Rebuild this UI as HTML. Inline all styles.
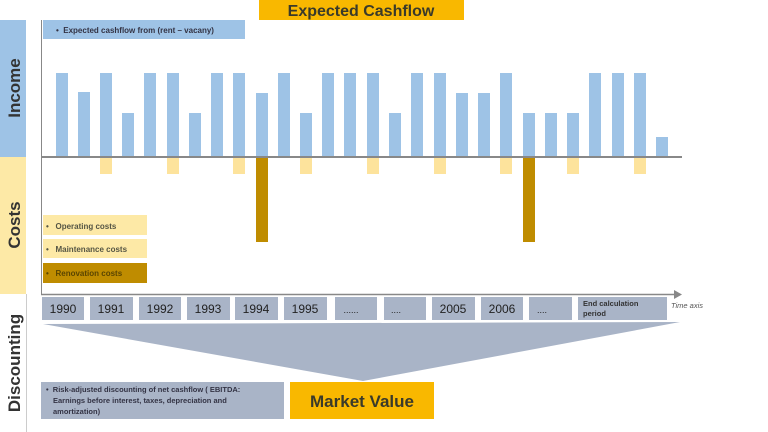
<!DOCTYPE html>
<html><head><meta charset="utf-8"><style>
html,body{margin:0;padding:0;background:#fff;}
svg{display:block;font-family:"Liberation Sans",sans-serif;}
</style></head><body>
<svg width="768" height="432" viewBox="0 0 768 432" xmlns="http://www.w3.org/2000/svg">
<rect x="259" y="0" width="205" height="20" fill="#f9b800"/>
<text x="361" y="16" font-size="16" font-weight="bold" fill="#3a3a2a" text-anchor="middle">Expected Cashflow</text>
<rect x="0" y="20" width="26" height="137" fill="#9ec3e6"/>
<text transform="translate(20,88) rotate(-90)" font-size="17" font-weight="bold" fill="#333" text-anchor="middle">Income</text>
<rect x="0" y="157" width="26" height="137" fill="#fde9a6"/>
<text transform="translate(20,225) rotate(-90)" font-size="17" font-weight="bold" fill="#333" text-anchor="middle">Costs</text>
<line x1="26.5" y1="294" x2="26.5" y2="432" stroke="#ccc" stroke-width="1"/>
<text transform="translate(20,363) rotate(-90)" font-size="17" font-weight="bold" fill="#333" text-anchor="middle">Discounting</text>
<line x1="41.5" y1="20" x2="41.5" y2="294" stroke="#888" stroke-width="1"/>
<rect x="43" y="20" width="202" height="19" fill="#9ec3e6"/>
<text x="56" y="33" font-size="8" font-weight="bold" fill="#334">•&#160;&#160;Expected cashflow from (rent – vacany)</text>
<g fill="#9ec3e6" id="bars"></g>
<g fill="#9ec3e6">
<rect x="56" y="73" width="12" height="84"/><rect x="78" y="92" width="12" height="65"/><rect x="100" y="73" width="12" height="84"/><rect x="122" y="113" width="12" height="44"/>
<rect x="144" y="73" width="12" height="84"/><rect x="167" y="73" width="12" height="84"/><rect x="189" y="113" width="12" height="44"/><rect x="211" y="73" width="12" height="84"/>
<rect x="233" y="73" width="12" height="84"/><rect x="256" y="93" width="12" height="64"/><rect x="278" y="73" width="12" height="84"/><rect x="300" y="113" width="12" height="44"/>
<rect x="322" y="73" width="12" height="84"/><rect x="344" y="73" width="12" height="84"/><rect x="367" y="73" width="12" height="84"/><rect x="389" y="113" width="12" height="44"/>
<rect x="411" y="73" width="12" height="84"/><rect x="434" y="73" width="12" height="84"/><rect x="456" y="93" width="12" height="64"/><rect x="478" y="93" width="12" height="64"/>
<rect x="500" y="73" width="12" height="84"/><rect x="523" y="113" width="12" height="44"/><rect x="545" y="113" width="12" height="44"/><rect x="567" y="113" width="12" height="44"/>
<rect x="589" y="73" width="12" height="84"/><rect x="612" y="73" width="12" height="84"/><rect x="634" y="73" width="12" height="84"/><rect x="656" y="137" width="12" height="20"/>
</g>
<g fill="#fde39c">
<rect x="100" y="157" width="12" height="17"/><rect x="167" y="157" width="12" height="17"/><rect x="233" y="157" width="12" height="17"/><rect x="300" y="157" width="12" height="17"/>
<rect x="367" y="157" width="12" height="17"/><rect x="434" y="157" width="12" height="17"/><rect x="500" y="157" width="12" height="17"/><rect x="567" y="157" width="12" height="17"/><rect x="634" y="157" width="12" height="17"/>
</g>
<g fill="#bf8c00">
<rect x="256" y="157" width="12" height="85"/><rect x="523" y="157" width="12" height="85"/>
</g>
<line x1="41" y1="157" x2="682" y2="157" stroke="#888" stroke-width="2"/>
<rect x="43" y="215" width="104" height="20" fill="#fde9a6"/>
<text x="46" y="229" font-size="8" font-weight="bold" fill="#554">•&#160;&#160;&#160;Operating costs</text>
<rect x="43" y="239" width="104" height="19" fill="#fde9a6"/>
<text x="46" y="252" font-size="8" font-weight="bold" fill="#554">•&#160;&#160;&#160;Maintenance costs</text>
<rect x="43" y="263" width="104" height="20" fill="#bf8c00"/>
<text x="46" y="276" font-size="8" font-weight="bold" fill="#5a4500">•&#160;&#160;&#160;Renovation costs</text>
<line x1="41" y1="294.5" x2="676" y2="294.5" stroke="#888" stroke-width="1.5"/>
<polygon points="674,290 682,294.5 674,299" fill="#888"/>
<text x="671" y="308" font-size="7.5" font-style="italic" fill="#555">Time axis</text>
<g fill="#a9b4c7">
<rect x="42" y="297" width="42" height="23"/><rect x="90" y="297" width="43" height="23"/><rect x="139" y="297" width="42" height="23"/><rect x="187" y="297" width="43" height="23"/>
<rect x="235" y="297" width="43" height="23"/><rect x="284" y="297" width="43" height="23"/><rect x="335" y="297" width="42" height="23"/><rect x="384" y="297" width="42" height="23"/>
<rect x="432" y="297" width="43" height="23"/><rect x="481" y="297" width="42" height="23"/><rect x="529" y="297" width="43" height="23"/><rect x="578" y="297" width="89" height="23"/>
</g>
<g font-size="12" fill="#222" text-anchor="middle">
<text x="63" y="313">1990</text><text x="111" y="313">1991</text><text x="160" y="313">1992</text><text x="208" y="313">1993</text>
<text x="256" y="313">1994</text><text x="305" y="313">1995</text><text x="351" y="313" font-size="9">......</text><text x="396" y="313" font-size="9">....</text>
<text x="453" y="313">2005</text><text x="502" y="313">2006</text><text x="542" y="313" font-size="9">....</text>
</g>
<text x="583" y="306" font-size="7.5" font-weight="bold" fill="#333">End calculation</text>
<text x="583" y="316" font-size="7.5" font-weight="bold" fill="#333">period</text>
<polygon points="43,324 680,322 363,381" fill="#a9b4c7"/>
<rect x="41" y="382" width="243" height="37" fill="#a9b4c7"/>
<text x="46" y="392" font-size="7.5" font-weight="bold" fill="#334">•&#160;&#160;Risk-adjusted discounting of net cashflow ( EBITDA:</text>
<text x="53" y="403" font-size="7.5" font-weight="bold" fill="#334">Earnings before interest, taxes, depreciation and</text>
<text x="53" y="414" font-size="7.5" font-weight="bold" fill="#334">amortization)</text>
<rect x="290" y="382" width="144" height="37" fill="#f9b800"/>
<text x="362" y="407" font-size="17" font-weight="bold" fill="#3a3a2a" text-anchor="middle">Market Value</text>
</svg>
</body></html>
